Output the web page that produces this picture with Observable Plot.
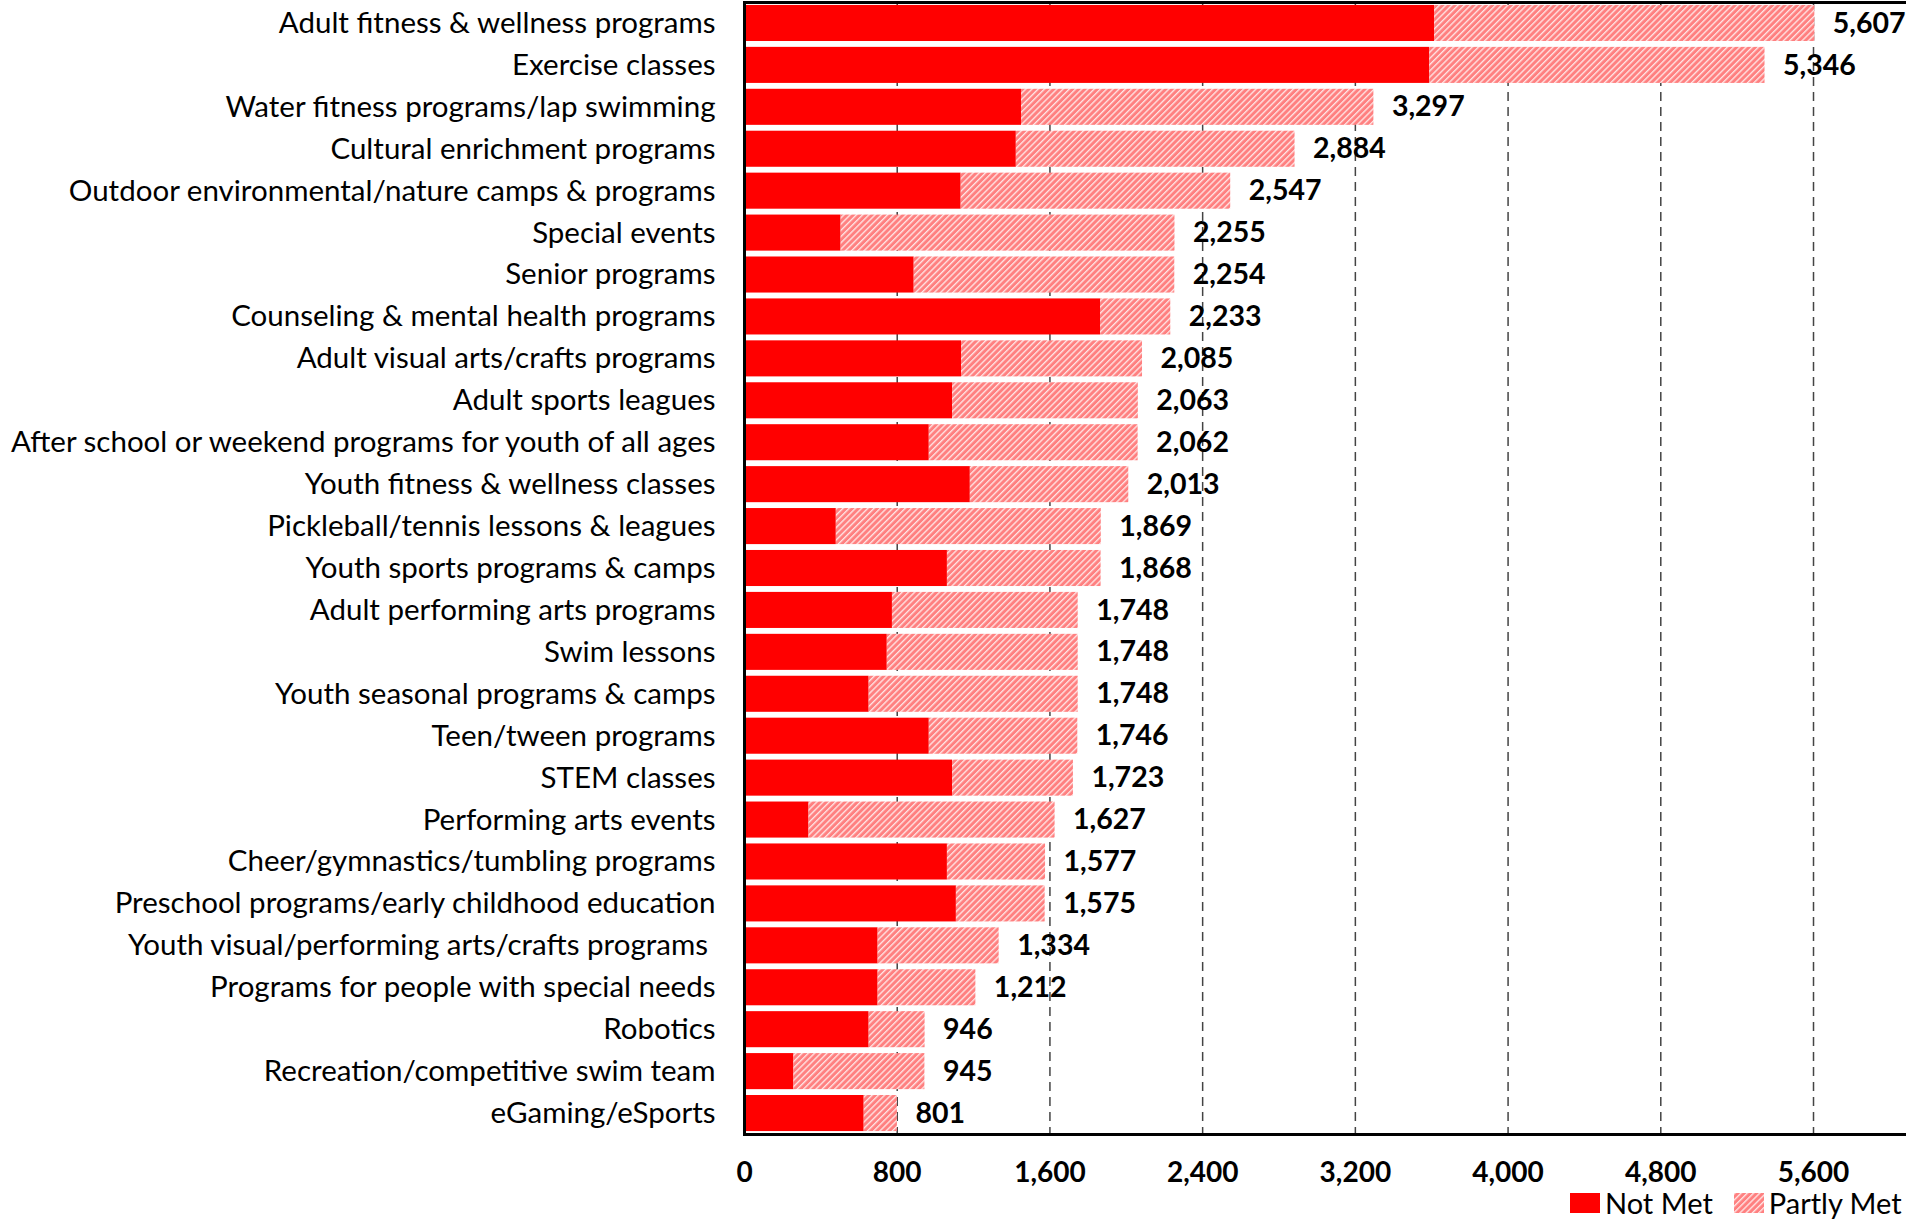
<!DOCTYPE html>
<html>
<head>
<meta charset="utf-8">
<script src="https://cdn.jsdelivr.net/npm/d3@7"></script>
<script src="https://cdn.jsdelivr.net/npm/@observablehq/plot@0.6"></script>
<style>
  html, body { margin: 0; padding: 0; background: #fff; overflow: hidden; }
  #wrap { position: relative; width: 1906px; height: 1219px; }
  #chart { position: absolute; left: 0; top: 0; }
  #legend { position: absolute; left: 1570px; top: 1188px; height: 29px; display: flex; align-items: center;
            font-family: Lato, sans-serif; font-size: 29px; line-height: 1; color: #000; white-space: nowrap; }
  #legend .sw { width: 30px; height: 20px; display: inline-block; }
  #legend .lab { margin-left: 5px; line-height: 1; }
</style>
</head>
<body>
<div id="wrap"><div id="chart"></div><div id="legend"></div></div>
<script>
const categories = [
  "Adult fitness & wellness programs",
  "Exercise classes",
  "Water fitness programs/lap swimming",
  "Cultural enrichment programs",
  "Outdoor environmental/nature camps & programs",
  "Special events",
  "Senior programs",
  "Counseling & mental health programs",
  "Adult visual arts/crafts programs",
  "Adult sports leagues",
  "After school or weekend programs for youth of all ages",
  "Youth fitness & wellness classes",
  "Pickleball/tennis lessons & leagues",
  "Youth sports programs & camps",
  "Adult performing arts programs",
  "Swim lessons",
  "Youth seasonal programs & camps",
  "Teen/tween programs",
  "STEM classes",
  "Performing arts events",
  "Cheer/gymnastics/tumbling programs",
  "Preschool programs/early childhood education",
  "Youth visual/performing arts/crafts programs\u00a0",
  "Programs for people with special needs",
  "Robotics",
  "Recreation/competitive swim team",
  "eGaming/eSports"
];
const notMet = [3615, 3590, 1451, 1424, 1135, 506, 889, 1865, 1137, 1090, 968, 1183, 481, 1063, 775, 748, 653, 968, 1090, 338, 1063, 1110, 700, 700, 653, 259, 627];
const totals = [5607, 5346, 3297, 2884, 2547, 2255, 2254, 2233, 2085, 2063, 2062, 2013, 1869, 1868, 1748, 1748, 1748, 1746, 1723, 1627, 1577, 1575, 1334, 1212, 946, 945, 801];
const xTicks = [0, 800, 1600, 2400, 3200, 4000, 4800, 5600];
const seriesNames = ["Not Met", "Partly Met"];

const rows = categories.map((c, i) => ({category: c, notMet: notMet[i], total: totals[i]}));
const fmt = d3.format(",");
const FONT = "Lato, sans-serif";

const chart = Plot.plot({
  width: 1906,
  height: 1219,
  marginLeft: 744,
  marginTop: 2,
  marginBottom: 85,
  marginRight: -12,
  style: {fontFamily: FONT, color: "#000", background: "transparent", overflow: "hidden"},
  x: {domain: [0, 6150], label: null},
  y: {domain: categories, paddingInner: 0.14, paddingOuter: 0.07, round: false, label: null},
  marks: [
    Plot.gridX(xTicks.slice(1), {stroke: "#444", strokeOpacity: 1, strokeWidth: 1.5, strokeDasharray: "9,6"}),
    Plot.barX(rows, {y: "category", x1: 0, x2: "notMet", fill: "#ff0000"}),
    Plot.barX(rows, {y: "category", x1: "notMet", x2: "total", fill: "url(#hatch)"}),
    Plot.text(rows, {y: "category", x: "total", text: d => fmt(d.total), dx: 18, textAnchor: "start",
      fontWeight: "bold", fontSize: 28.5, fill: "#000"}),
    Plot.axisX(xTicks, {tickSize: 0, tickPadding: 28, fontSize: 28, fontWeight: "bold", tickFormat: fmt, label: null}),
    Plot.axisY({tickSize: 0, tickPadding: 29, fontSize: 29.5, label: null}),
    Plot.frame({stroke: "#000", strokeWidth: 3})
  ]
});

function hatchDefs(svgSel) {
  const defs = svgSel.insert("defs", ":first-child");
  const p = defs.append("pattern")
    .attr("id", "hatch").attr("patternUnits", "userSpaceOnUse")
    .attr("width", 4.4).attr("height", 10).attr("patternTransform", "rotate(45)");
  p.append("rect").attr("width", 4.4).attr("height", 10).attr("fill", "#ff8080");
  p.append("line").attr("x1", 0.7).attr("x2", 0.7).attr("y1", 0).attr("y2", 10)
    .attr("stroke", "#fff").attr("stroke-opacity", 0.9).attr("stroke-width", 1.2);
}
hatchDefs(d3.select(chart));
document.getElementById("chart").appendChild(chart);

const legend = d3.select("#legend");
seriesNames.forEach((name, i) => {
  const sw = legend.append("svg").attr("class", "sw").attr("width", 30).attr("height", 20)
    .style("margin-left", i === 0 ? "0px" : "21px");
  sw.append("rect").attr("width", 30).attr("height", 20).attr("fill", i === 0 ? "#ff0000" : "url(#hatch)");
  legend.append("span").attr("class", "lab").text(name);
});
</script>
</body>
</html>
